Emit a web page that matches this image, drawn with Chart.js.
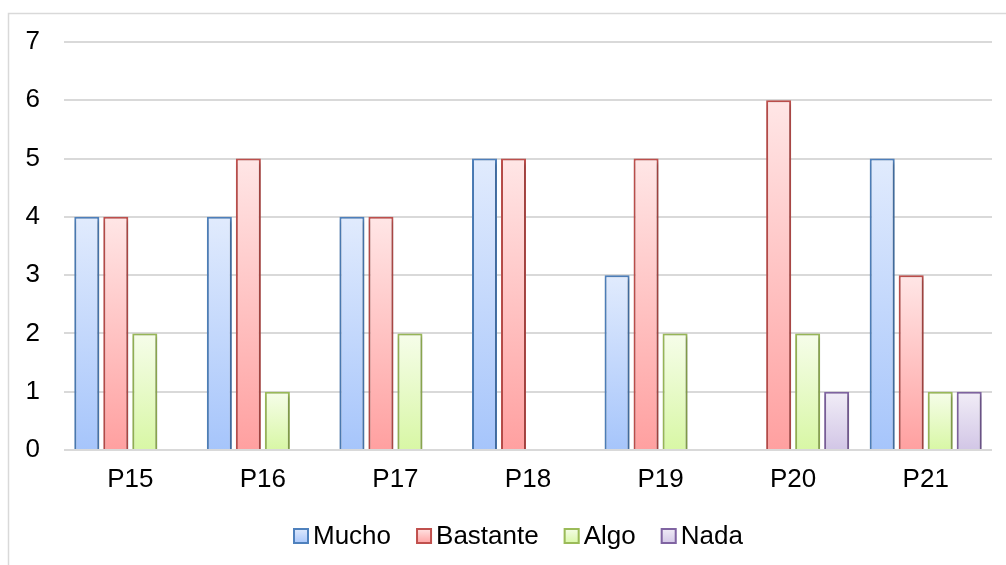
<!DOCTYPE html>
<html>
<head>
<meta charset="utf-8">
<script src="https://cdn.jsdelivr.net/npm/chart.js@4.4.1/dist/chart.umd.min.js"></script>
<style>
  html, body { margin: 0; padding: 0; background: #fff; }
  #wrap { width: 1006px; height: 565px; }
</style>
</head>
<body>
<div id="wrap"><canvas id="c" width="1006" height="565"></canvas></div>
<script>
// Categories and series
const categories = ['P15', 'P16', 'P17', 'P18', 'P19', 'P20', 'P21'];
const mucho    = [4, 4, 4, 5, 3, 0, 5];
const bastante = [4, 5, 4, 5, 5, 6, 3];
const algo     = [2, 1, 2, 0, 2, 2, 1];
const nada     = [0, 0, 0, 0, 0, 1, 1];
const seriesNames = ['Mucho', 'Bastante', 'Algo', 'Nada'];
const yTicks = [0, 1, 2, 3, 4, 5, 6, 7];

// Series styling: border colour, gradient top, gradient bottom
const palette = [
  { border: '#4f81bd', top: '#e1ebfd', bottom: '#a6c5fb' },
  { border: '#c0504d', top: '#ffe6e6', bottom: '#ffa0a0' },
  { border: '#9bbb59', top: '#f6fdea', bottom: '#d8f7a5' },
  { border: '#8064a2', top: '#f1edf7', bottom: '#d2c6e6' }
];

const FONT = '"Liberation Sans", Arial, sans-serif';

// Vertical gradient fill for each bar, light at the top, darker at the base
function barGradient(top, bottom) {
  return (ctx) => {
    const chart = ctx.chart;
    const y = chart.scales && chart.scales.y;
    if (!y || ctx.type !== 'data') return bottom;
    const yTop = y.getPixelForValue(ctx.raw);
    const yBase = y.getPixelForValue(0);
    if (!isFinite(yTop) || !isFinite(yBase) || yTop === yBase) return bottom;
    const g = chart.ctx.createLinearGradient(0, yTop, 0, yBase);
    g.addColorStop(0, top);
    g.addColorStop(1, bottom);
    return g;
  };
}

const seriesValues = [mucho, bastante, algo, nada];
const datasets = seriesValues.map((vals, i) => ({
  label: seriesNames[i],
  data: vals,
  backgroundColor: barGradient(palette[i].top, palette[i].bottom),
  borderColor: palette[i].border,
  borderWidth: 2,
  categoryPercentage: 0.875,
  barPercentage: 0.862
}));

// Light frame around the whole chart
const framePlugin = {
  id: 'frame',
  beforeDraw(chart) {
    const c = chart.ctx;
    c.save();
    c.fillStyle = '#ffffff';
    c.fillRect(0, 0, chart.width, chart.height);
    c.strokeStyle = '#d9d9d9';
    c.lineWidth = 1.5;
    c.strokeRect(8.5, 13.5, chart.width + 20, chart.height + 20);
    c.restore();
  }
};

// Soft drop shadow under the bars
const shadowPlugin = {
  id: 'barShadow',
  beforeDatasetsDraw(chart) {
    const c = chart.ctx;
    c.save();
    c.shadowColor = 'rgba(0,0,0,0.3)';
    c.shadowBlur = 4;
    c.shadowOffsetX = 1;
    c.shadowOffsetY = 2;
  },
  afterDatasetsDraw(chart) {
    chart.ctx.restore();
  }
};

// Legend row below the category labels
const legendPlugin = {
  id: 'bottomLegend',
  afterDraw(chart, args, opts) {
    const c = chart.ctx;
    c.save();
    c.font = opts.fontSize + 'px ' + FONT;
    c.textBaseline = 'middle';
    c.textAlign = 'left';
    let x = opts.x;
    chart.data.datasets.forEach((ds, i) => {
      const p = palette[i];
      const by = opts.y - opts.box / 2;
      const g = c.createLinearGradient(0, by, 0, by + opts.box);
      g.addColorStop(0, p.top);
      g.addColorStop(1, p.bottom);
      c.fillStyle = g;
      c.fillRect(x, by, opts.box, opts.box);
      c.strokeStyle = p.border;
      c.lineWidth = 2;
      c.strokeRect(x + 1, by + 1, opts.box - 2, opts.box - 2);
      x += opts.box + opts.gap;
      c.fillStyle = '#000';
      c.fillText(ds.label, x, opts.y + 1);
      x += c.measureText(ds.label).width + opts.spacing;
    });
    c.restore();
  }
};

new Chart(document.getElementById('c'), {
  type: 'bar',
  data: { labels: categories, datasets },
  plugins: [framePlugin, shadowPlugin, legendPlugin],
  options: {
    responsive: false,
    animation: false,
    layout: { padding: { top: 42, left: 0, right: 14, bottom: 0 } },
    plugins: {
      legend: { display: false },
      tooltip: { enabled: false },
      bottomLegend: { x: 293, y: 536, box: 16, gap: 4, spacing: 25, fontSize: 26 }
    },
    scales: {
      x: {
        grid: { display: false, drawTicks: false },
        border: { display: false },
        ticks: { color: '#000', font: { family: FONT, size: 26 }, padding: 14, maxRotation: 0 },
        afterFit(scale) { scale.height = 115; }
      },
      y: {
        min: 0,
        max: 7,
        afterBuildTicks(scale) { scale.ticks = yTicks.map(v => ({ value: v })); },
        grid: { color: '#d9d9d9', lineWidth: 2, drawTicks: false },
        border: { display: false },
        ticks: { color: '#000', font: { family: FONT, size: 26 }, padding: 24 },
        afterFit(scale) { scale.width = 64; }
      }
    }
  }
});
</script>
</body>
</html>
